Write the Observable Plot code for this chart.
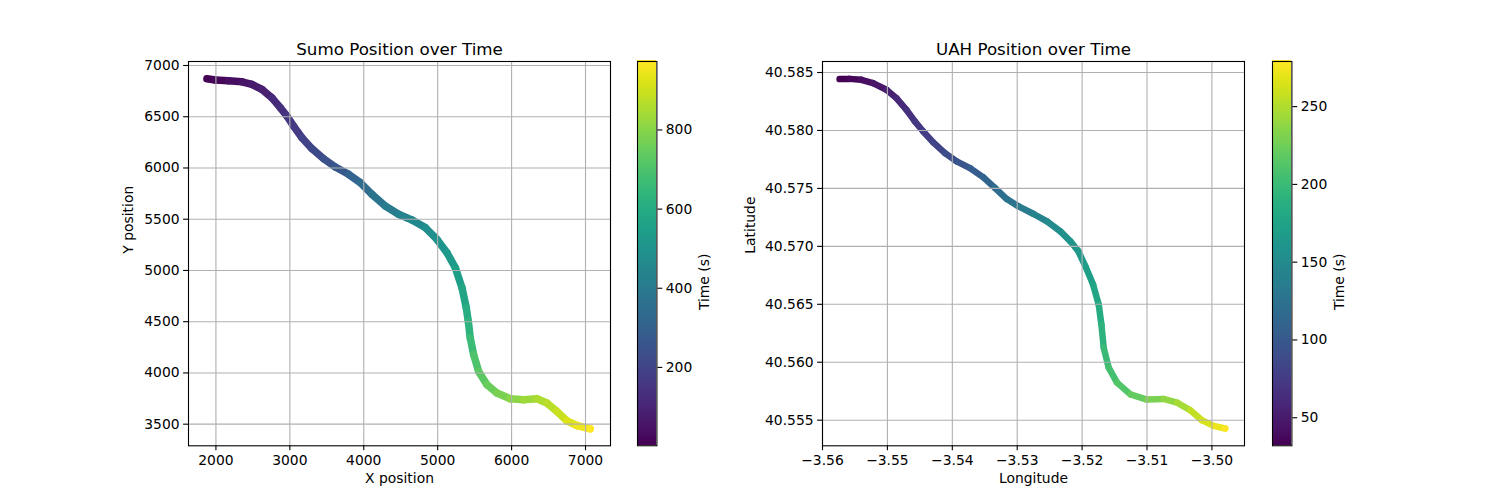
<!DOCTYPE html>
<html>
<head>
<meta charset="utf-8">
<script src="https://cdn.jsdelivr.net/npm/d3@7"></script>
<script src="https://cdn.jsdelivr.net/npm/@observablehq/plot@0.6"></script>
<style>
  html, body { margin: 0; padding: 0; background: #fff; }
  #root { position: relative; width: 1500px; height: 500px; background: #fff; overflow: hidden; }
  #root svg { position: absolute; }
</style>
</head>
<body>
<div id="root"></div>
<script>
// ---- Sumo trajectory (X position, Y position, time in s) ----
const sumoX = [1878, 1991, 2171, 2352, 2487, 2622, 2758, 2870, 2961, 3051, 3164, 3299, 3457, 3615, 3795, 3953, 4111, 4291, 4471, 4652, 4832, 4991, 5126, 5239, 5329, 5387, 5414, 5441, 5487, 5554, 5667, 5802, 5982, 6162, 6342, 6478, 6613, 6748, 6883, 7063];
const sumoY = [6870, 6858, 6851, 6841, 6815, 6767, 6685, 6588, 6506, 6409, 6295, 6188, 6090, 6009, 5938, 5857, 5743, 5629, 5548, 5493, 5418, 5303, 5173, 5026, 4830, 4635, 4504, 4341, 4178, 4015, 3885, 3804, 3748, 3738, 3748, 3706, 3624, 3533, 3487, 3455];
const sumoT = [3, 18, 38, 55, 70, 92, 118, 138, 155, 172, 194, 215, 245, 270, 310, 342, 372, 402, 430, 455, 480, 503, 524, 545, 572, 605, 628, 665, 700, 728, 752, 778, 803, 830, 855, 870, 893, 922, 950, 973];

// ---- UAH trajectory (longitude, latitude, time in s) ----
const uahLon = [-3.55737, -3.55582, -3.55402, -3.55222, -3.55015, -3.54861, -3.54706, -3.54577, -3.54448, -3.54294, -3.54113, -3.53933, -3.53727, -3.53521, -3.53340, -3.53160, -3.52979, -3.52747, -3.52541, -3.52335, -3.52180, -3.52060, -3.51949, -3.51831, -3.51744, -3.51703, -3.51667, -3.51590, -3.51462, -3.51256, -3.51000, -3.50744, -3.50538, -3.50333, -3.50154, -3.49974, -3.49795];
const uahLat = [40.58443, 40.58445, 40.58437, 40.58408, 40.58351, 40.58279, 40.58178, 40.58078, 40.57991, 40.57897, 40.57805, 40.57733, 40.57675, 40.57595, 40.57503, 40.57408, 40.57345, 40.57279, 40.57216, 40.57129, 40.57043, 40.56960, 40.56828, 40.56670, 40.56498, 40.56326, 40.56125, 40.55953, 40.55824, 40.55723, 40.55678, 40.55683, 40.55652, 40.55586, 40.55500, 40.55451, 40.55428];
const uahT = [32, 36, 41, 47, 54, 60, 66, 72, 77, 83, 89, 97, 104, 112, 119, 127, 134, 142, 149, 156, 161, 165, 170, 177, 184, 191, 199, 205, 212, 220, 229, 238, 246, 256, 264, 272, 279];

// ---- tick labels ----
const sumoXTicks = [2000, 3000, 4000, 5000, 6000, 7000];
const sumoYTicks = [3500, 4000, 4500, 5000, 5500, 6000, 6500, 7000];
const sumoCbTicks = [200, 400, 600, 800];
const uahXTicks = [-3.56, -3.55, -3.54, -3.53, -3.52, -3.51, -3.50];
const uahYTicks = [40.555, 40.560, 40.565, 40.570, 40.575, 40.580, 40.585];
const uahCbTicks = [50, 100, 150, 200, 250];

// ---- domains (axes limits as in the picture) ----
const sumoXDomain = [1629, 7338];
const sumoYDomain = [3289, 7039];
const sumoTDomain = [2, 973];
const uahXDomain = [-3.56, -3.49498];
const uahYDomain = [40.55279, 40.58595];
const uahTDomain = [32, 279];

const FONT = "DejaVu Sans, sans-serif";
const TICK = 13.9;
const root = document.getElementById("root");

function minus(s) { return s.replace("-", "\u2212"); }

function panel(opts) {
  const data = opts.xs.map((x, i) => ({x, y: opts.ys[i], t: opts.ts[i]}));
  const mL = 70, mR = 10, mT = 35, mB = 55;
  const w = 422, h = 384.3;
  const svg = Plot.plot({
    width: w + mL + mR, height: h + mT + mB,
    marginLeft: mL, marginRight: mR, marginTop: mT, marginBottom: mB,
    style: {fontFamily: FONT, fontSize: TICK + "px", color: "black", background: "transparent", overflow: "visible"},
    x: {domain: opts.xDomain, label: null},
    y: {domain: opts.yDomain, label: null},
    color: {type: "linear", scheme: "viridis", domain: opts.tDomain},
    marks: [
      Plot.line(data, {x: "x", y: "y", z: null, stroke: "t", curve: "catmull-rom", strokeWidth: opts.lineWidth, strokeLinecap: "round", strokeLinejoin: "round"}),
      Plot.gridX(opts.xTicks, {stroke: "#b0b0b0", strokeOpacity: 1, strokeWidth: 1.1}),
      Plot.gridY(opts.yTicks, {stroke: "#b0b0b0", strokeOpacity: 1, strokeWidth: 1.1}),
      Plot.frame({stroke: "black", strokeWidth: 1.1}),
      Plot.axisX(opts.xTicks, {tickSize: 4.9, tickPadding: 4, tickFormat: opts.xFmt, label: null, fontSize: TICK, strokeWidth: 1.1}),
      Plot.axisY(opts.yTicks, {tickSize: 4.9, tickPadding: 4, tickFormat: opts.yFmt, label: null, fontSize: TICK, strokeWidth: 1.1}),
      Plot.text([opts.title], {frameAnchor: "top", lineAnchor: "bottom", dy: -6, fontSize: 16.7, fill: "black"}),
      Plot.text([opts.xLabel], {frameAnchor: "bottom", lineAnchor: "top", dy: 27, fontSize: TICK, fill: "black"}),
      Plot.text([opts.yLabel], {frameAnchor: "left", rotate: -90, dx: opts.yLabelDx, fontSize: TICK, fill: "black"})
    ]
  });
  svg.style.left = (opts.left - mL) + "px";
  svg.style.top = (60.7 - mT) + "px";
  root.appendChild(svg);
}

function colorbar(opts) {
  const mL = 5, mR = 80, mT = 35, mB = 55;
  const w = 19.4, h = 384.3;
  const [lo, hi] = opts.tDomain;
  const N = 240;
  const bands = d3.range(N).map(i => ({y1: lo + (hi - lo) * i / N, y2: lo + (hi - lo) * (i + 1) / N}));
  const svg = Plot.plot({
    width: w + mL + mR, height: h + mT + mB,
    marginLeft: mL, marginRight: mR, marginTop: mT, marginBottom: mB,
    style: {fontFamily: FONT, fontSize: TICK + "px", color: "black", background: "transparent", overflow: "visible"},
    x: {domain: [0, 1], axis: null},
    y: {domain: opts.tDomain, label: null},
    color: {type: "linear", scheme: "viridis", domain: opts.tDomain},
    marks: [
      Plot.rect(bands, {x1: 0, x2: 1, y1: "y1", y2: d => d.y2 + (hi - lo) * 0.002, fill: d => (d.y1 + d.y2) / 2, shapeRendering: "crispEdges"}),
      Plot.frame({stroke: "black", strokeWidth: 1.1}),
      Plot.axisY(opts.ticks, {anchor: "right", tickSize: 4.9, tickPadding: 4, tickFormat: d => String(d), label: null, fontSize: TICK, strokeWidth: 1.1}),
      Plot.text(["Time (s)"], {frameAnchor: "right", rotate: -90, dx: 48, fontSize: TICK, fill: "black"})
    ]
  });
  svg.style.left = (opts.left - mL) + "px";
  svg.style.top = (60.7 - mT) + "px";
  root.appendChild(svg);
}

panel({
  xs: sumoX, ys: sumoY, ts: sumoT,
  xDomain: sumoXDomain, yDomain: sumoYDomain, tDomain: sumoTDomain,
  xTicks: sumoXTicks, yTicks: sumoYTicks,
  xFmt: d => String(d), yFmt: d => String(d),
  title: "Sumo Position over Time", xLabel: "X position", yLabel: "Y position",
  yLabelDx: -60, left: 188.3, lineWidth: 7.5
});
colorbar({tDomain: sumoTDomain, ticks: sumoCbTicks, left: 637.3});

panel({
  xs: uahLon, ys: uahLat, ts: uahT,
  xDomain: uahXDomain, yDomain: uahYDomain, tDomain: uahTDomain,
  xTicks: uahXTicks, yTicks: uahYTicks,
  xFmt: d => minus(d.toFixed(2)), yFmt: d => d.toFixed(3),
  title: "UAH Position over Time", xLabel: "Longitude", yLabel: "Latitude",
  yLabelDx: -72, left: 822.3, lineWidth: 6.5
});
colorbar({tDomain: uahTDomain, ticks: uahCbTicks, left: 1271.7});
</script>
</body>
</html>
